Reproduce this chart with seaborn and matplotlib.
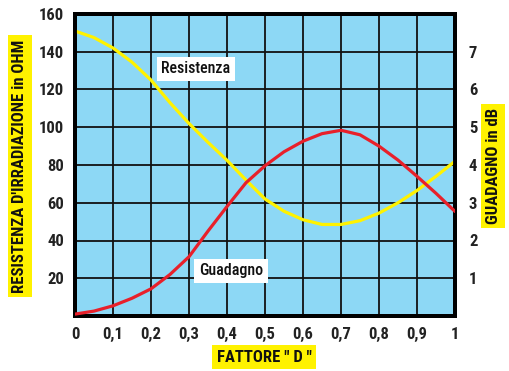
import matplotlib
matplotlib.use("Agg")
import matplotlib.pyplot as plt
import seaborn as sns
import pandas as pd

fattore_d = [0.0, 0.05, 0.1, 0.15, 0.2, 0.25, 0.3, 0.35, 0.4, 0.45, 0.5,
             0.55, 0.6, 0.65, 0.7, 0.75, 0.8, 0.85, 0.9, 0.95, 1.0]
resistenza_ohm = [151, 147.5, 142, 134.5, 125, 113, 102, 92, 82.5, 72, 62,
                  55.5, 51, 48.5, 48.5, 50.5, 54.5, 60, 66.5, 74, 82]
guadagno_db = [0.05, 0.13, 0.27, 0.47, 0.72, 1.1, 1.57, 2.25, 2.9, 3.53, 3.98,
               4.35, 4.63, 4.83, 4.92, 4.8, 4.5, 4.13, 3.7, 3.25, 2.77]

x_ticks = [0, 0.1, 0.2, 0.3, 0.4, 0.5, 0.6, 0.7, 0.8, 0.9, 1.0]
x_tick_labels = ["0", "0,1", "0,2", "0,3", "0,4", "0,5", "0,6", "0,7", "0,8", "0,9", "1"]
left_ticks = [20, 40, 60, 80, 100, 120, 140, 160]
right_ticks = [1, 2, 3, 4, 5, 6, 7]

df = pd.DataFrame({"D": fattore_d, "R": resistenza_ohm, "G": guadagno_db})

sns.set_style("white")
plt.rcParams['font.family'] = ['Roboto Condensed', 'Liberation Sans Narrow',
                               'Open Sans Condensed', 'DejaVu Sans']
plt.rcParams['font.stretch'] = 'condensed'

fig = plt.figure(figsize=(5.09, 3.71), dpi=100)
ax = fig.add_axes([75/509, 1-316/371, 380/509, 302/371])
ax.set_facecolor("#8dd8f5")

ax2 = ax.twinx()

sns.lineplot(data=df, x="D", y="R", ax=ax, color="#fff200", linewidth=2.3, zorder=3)
sns.lineplot(data=df, x="D", y="G", ax=ax2, color="#e8202a", linewidth=2.3, zorder=3)

ax.set_xlim(0, 1)
ax.set_ylim(0, 160)
ax2.set_ylim(0, 8)

ax.set_xticks(x_ticks)
ax.set_xticklabels(x_tick_labels)
ax.set_yticks(left_ticks)
ax2.set_yticks(right_ticks)

for a in (ax, ax2):
    a.tick_params(length=0, labelsize=12, colors="#222222", pad=8)
    for lbl in a.get_xticklabels() + a.get_yticklabels():
        lbl.set_fontweight("bold")
ax2.tick_params(axis="y", pad=10)

ax.grid(True, color="#111111", linewidth=1.3)
ax.set_axisbelow(True)
for a in (ax, ax2):
    for s in a.spines.values():
        s.set_linewidth(2.8)
        s.set_color("black")

ax.set_xlabel("")
ax.set_ylabel("")
ax2.set_ylabel("")

box_y = dict(boxstyle="square,pad=0.25", facecolor="#fff200", edgecolor="none")
fig.text(20/509, 1-166/371, "RESISTENZA D'IRRADIAZIONE in OHM", rotation=90,
         ha="center", va="center", fontsize=12, fontweight="bold", color="#111111", bbox=box_y)
fig.text(493/509, 1-166/371, "GUADAGNO in dB", rotation=90,
         ha="center", va="center", fontsize=12, fontweight="bold", color="#111111", bbox=box_y)
fig.text(264/509, 1-357/371, 'FATTORE " D "',
         ha="center", va="center", fontsize=12, fontweight="bold", color="#111111", bbox=box_y)

box_w = dict(boxstyle="square,pad=0.3", facecolor="white", edgecolor="none")
ax.text((196-75)/380, (316-69)/1.8875, "Resistenza", ha="center", va="center", fontsize=11.5,
        fontweight="medium", color="#111111", bbox=box_w, zorder=5)
ax.text((231-75)/380, (316-271)/1.8875, "Guadagno", ha="center", va="center", fontsize=11.5,
        fontweight="medium", color="#111111", bbox=box_w, zorder=5)

fig.savefig("out.png", dpi=100, facecolor="white")
